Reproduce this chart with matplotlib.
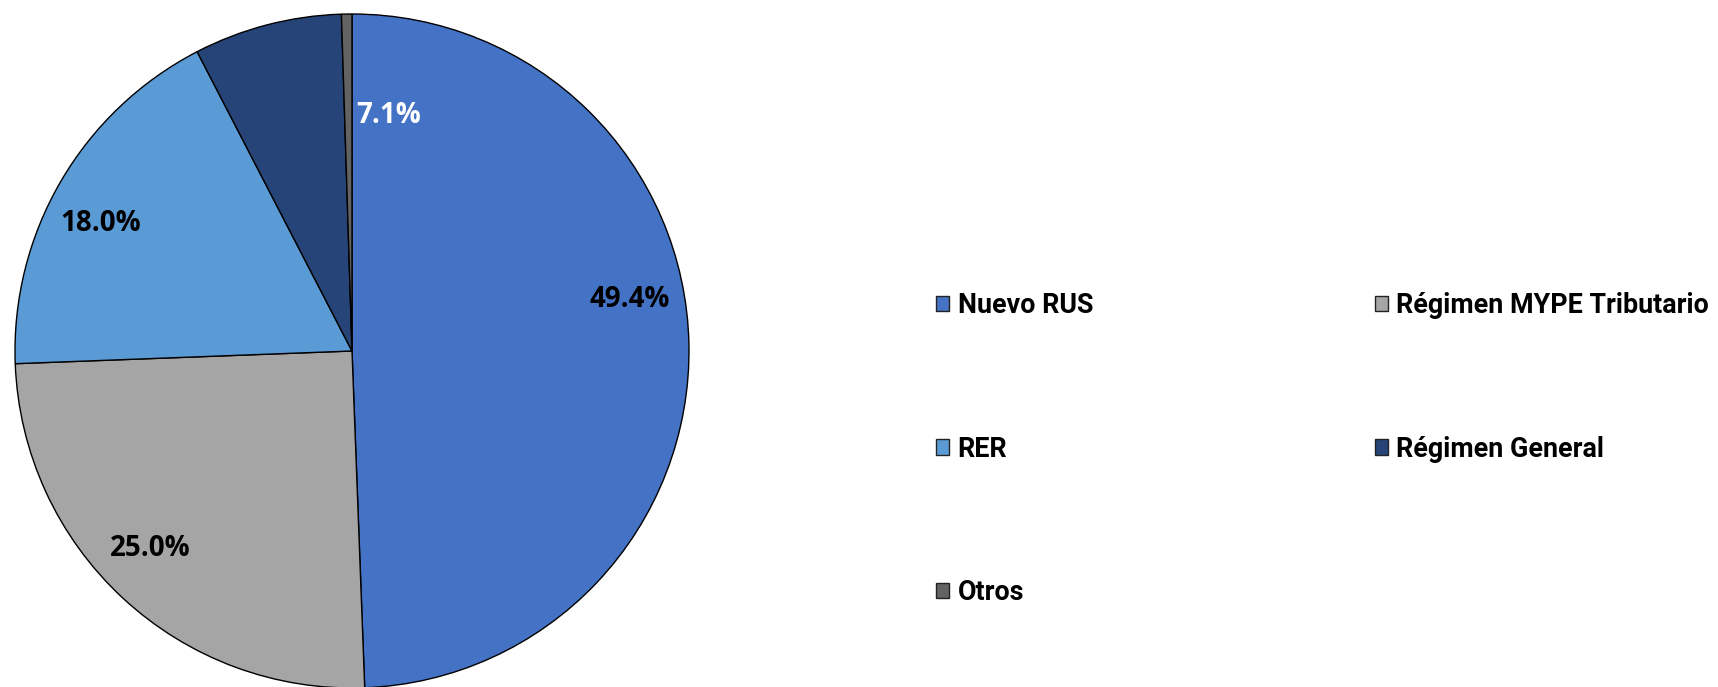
import matplotlib.pyplot as plt
from matplotlib.patches import Patch

# Data
categories = ["Nuevo RUS", "Régimen MYPE Tributario", "RER", "Régimen General", "Otros"]
shares = [49.4, 25.0, 18.0, 7.1, 0.5]
colors = ["#4472C4", "#A5A5A5", "#5B9BD5", "#264478", "#636363"]
pct_labels = ["49.4%", "25.0%", "18.0%", "7.1%", None]

# label placement (in pie radius units) and text colour
label_pos = [(0.825, 0.154), (-0.60, -0.587), (-0.745, 0.377), (0.11, 0.70)]
label_col = ["black", "black", "black", "white"]

W, H = 1718, 687
fig = plt.figure(figsize=(W / 100, H / 100), dpi=100)

# pie axes: centre at (352, 351) px, radius 337 px
cx, cy, R = 352, 351, 337
ax = fig.add_axes([(cx - R) / W, (H - cy - R) / H, 2 * R / W, 2 * R / H])
wedges, _ = ax.pie(shares, colors=colors, startangle=90, counterclock=False,
                   radius=1.0, wedgeprops=dict(edgecolor="black", linewidth=1.0))
for w in wedges:
    w.set_clip_on(False)
ax.set_xlim(-1, 1)
ax.set_ylim(-1, 1)
ax.set_aspect("equal")
ax.axis("off")

for txt, (x, y), c in zip(pct_labels, label_pos, label_col):
    ax.text(x, y, txt, ha="center", va="center", fontsize=20,
            fontweight="bold", family="Open Sans", color=c)

# legend, row-wise order
order = [0, 2, 4, 1, 3]
handles = [Patch(facecolor=colors[i], edgecolor="#222222", linewidth=1.0) for i in order]
labels = [categories[i] for i in order]
leg = fig.legend(handles, labels, ncol=2, loc="upper left",
                 bbox_to_anchor=(936 / W, 1 - 292 / H), frameon=False,
                 prop=dict(family="Roboto", weight="bold", size=19.4),
                 handlelength=0.5, handleheight=0.5, handletextpad=0.3,
                 labelspacing=4.33, columnspacing=10.45, borderpad=0, borderaxespad=0)

fig.savefig("out.png", dpi=100)
